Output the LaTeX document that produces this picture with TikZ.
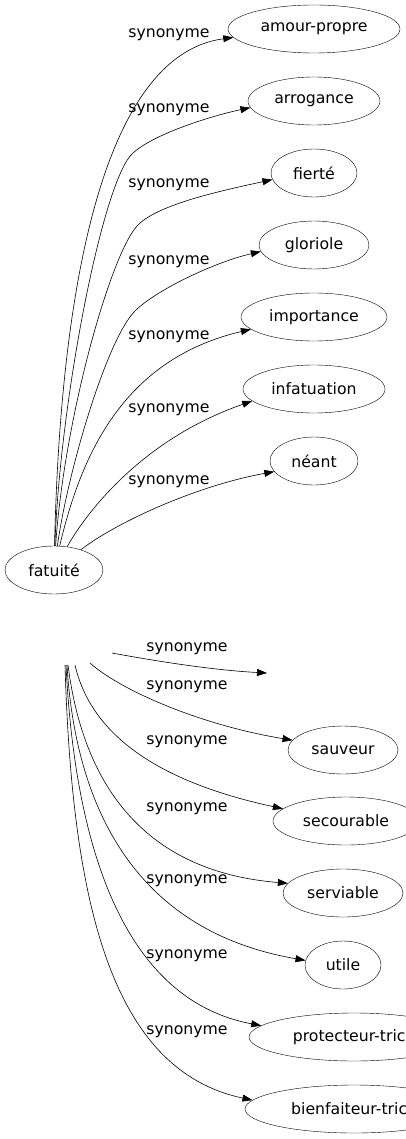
\documentclass[tikz,border=0pt]{standalone}
\usepackage{fontspec}
\setmainfont{DejaVu Sans}
\usetikzlibrary{shapes.geometric,arrows.meta}
\tikzset{
  word/.style={draw, ellipse, inner sep=0pt, minimum height=48pt, font=\fontsize{15.7}{18}\selectfont},
  rel/.style={inner sep=0pt, font=\fontsize{15.7}{18}\selectfont},
  syn/.style={-{Triangle[length=10pt,width=7pt]}, line width=0.6pt}
}

\begin{document}
\begin{tikzpicture}[x=1pt, y=-1pt]
    \clip (0,0) rectangle (406,1139);

    % upper graph
    \node[word, minimum width=98pt] (fat) at (54,570) {fatuité};
    \node[word, minimum width=172pt] (amour) at (314,29) {amour-propre};
    \node[word, minimum width=132pt] (arro) at (314,101) {arrogance};
    \node[word, minimum width=86pt] (fier) at (314,173) {fierté};
    \node[word, minimum width=110pt] (glor) at (314,245) {gloriole};
    \node[word, minimum width=146pt] (impo) at (314,317) {importance};
    \node[word, minimum width=142pt] (infa) at (314,389) {infatuation};
    \node[word, minimum width=88pt] (nean) at (314,461) {néant};

    \node[rel] (s1) at (169,35) {synonyme};
    \node[rel] (s2) at (169,110) {synonyme};
    \node[rel] (s3) at (169,185) {synonyme};
    \node[rel] (s4) at (169,262) {synonyme};
    \node[rel] (s5) at (169,337) {synonyme};
    \node[rel] (s6) at (169,410) {synonyme};
    \node[rel] (s7) at (169,482) {synonyme};

    \draw[syn] (fat) .. controls (60,300) and (100,55) .. (amour.186);
    \draw[syn] (fat) .. controls (60,400) and (103,179) .. (133,153)
        .. controls (155,133) and (215,115) .. (arro.186);
    \draw[syn] (fat) .. controls (64,420) and (110,256) .. (137,226)
        .. controls (157,204) and (225,190) .. (fier.189);
    \draw[syn] (fat) .. controls (68,470) and (107,339) .. (135,311)
        .. controls (156,290) and (215,262) .. (glor.187);
    \draw[syn] (fat) .. controls (80,460) and (120,360) .. (impo.191);
    \draw[syn] (fat) .. controls (85,515) and (140,440) .. (infa.191);
    \draw[syn] (fat) .. controls (120,520) and (200,485) .. (nean.195);

    % lower graph
    \coordinate (b1) at (112,653);
    \coordinate (b2) at (90,663);
    \coordinate (b3) at (75,665);
    \coordinate (b4) at (68,665);
    \coordinate (b5) at (67,665);
    \coordinate (b6) at (66,665);
    \coordinate (b7) at (65,665);
    \coordinate (e0) at (267,673);

    \node[word, minimum width=110pt] (sauv) at (343,750) {sauveur};
    \node[word, minimum width=146pt] (seco) at (346,821) {secourable};
    \node[word, minimum width=120pt] (serv) at (343,893) {serviable};
    \node[word, minimum width=76pt] (util) at (343,965) {utile};
    \node[word, minimum width=210pt] (prot) at (354,1037) {protecteur-trice};
    \node[word, minimum width=218pt] (bien) at (354,1109) {bienfaiteur-trice};

    \node[rel] (t1) at (187,649) {synonyme};
    \node[rel] (t2) at (187,687) {synonyme};
    \node[rel] (t3) at (187,742) {synonyme};
    \node[rel] (t4) at (187,809) {synonyme};
    \node[rel] (t5) at (187,881) {synonyme};
    \node[rel] (t6) at (187,956) {synonyme};
    \node[rel] (t7) at (187,1032) {synonyme};

    \draw[syn] (b1) .. controls (150,660) and (210,670) .. (e0);
    \draw[syn] (b2) .. controls (120,690) and (200,725) .. (sauv.169);
    \draw[syn] (b3) .. controls (90,730) and (150,780) .. (seco.169);
    \draw[syn] (b4) .. controls (80,760) and (125,870) .. (serv.170);
    \draw[syn] (b5) .. controls (75,800) and (130,930) .. (util.173);
    \draw[syn] (b6) .. controls (75,850) and (125,1000) .. (prot.173);
    \draw[syn] (b7) .. controls (72,900) and (110,1070) .. (bien.175);
\end{tikzpicture}
\end{document}
